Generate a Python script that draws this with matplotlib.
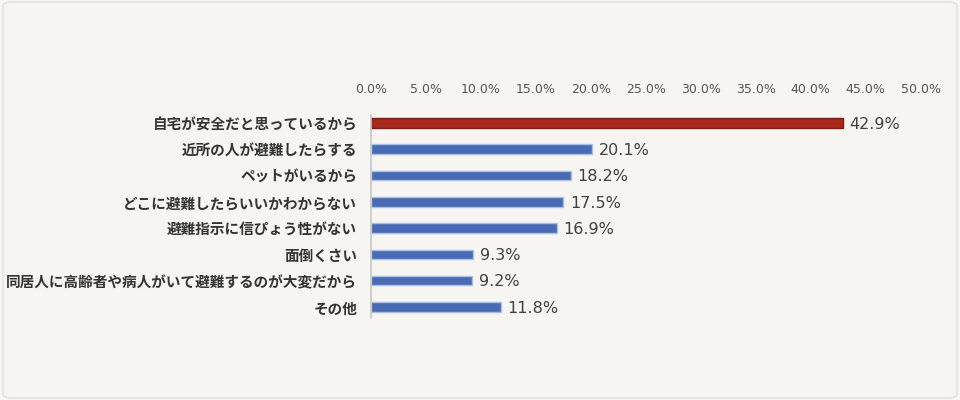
import matplotlib.pyplot as plt
from matplotlib.patches import FancyBboxPatch

plt.rcParams['font.family'] = ['Noto Sans CJK JP', 'DejaVu Sans']

# データ
理由 = ['自宅が安全だと思っているから', '近所の人が避難したらする', 'ペットがいるから',
      'どこに避難したらいいかわからない', '避難指示に信ぴょう性がない', '面倒くさい',
      '同居人に高齢者や病人がいて避難するのが大変だから', 'その他']
割合 = [42.9, 20.1, 18.2, 17.5, 16.9, 9.3, 9.2, 11.8]
目盛 = [0, 5, 10, 15, 20, 25, 30, 35, 40, 45, 50]

bg = '#f6f5f1'
fig = plt.figure(figsize=(9.6, 4.0), dpi=100, facecolor=bg)
fig.patches.append(FancyBboxPatch((0.003, 0.005), 0.994, 0.99, boxstyle='round,pad=0,rounding_size=0.01',
                                  transform=fig.transFigure, facecolor=bg, edgecolor='#e2e1dd', lw=1, zorder=-1))

ax = fig.add_axes([0.3865, 0.205, 0.5725, 0.5075])
ax.set_facecolor('none')

y = list(range(len(理由)))
colors = ['#a8291c'] + ['#4a6bb4'] * (len(理由) - 1)
edges = ['#7a1e14'] + ['#a9c0e6'] * (len(理由) - 1)
ax.barh(y, 割合, height=0.36, color=colors, edgecolor=edges, linewidth=1)

for yi, v in zip(y, 割合):
    ax.text(v + 0.6, yi + 0.05, f'{v:.1f}%', va='center', ha='left', fontsize=11.5,
            color='#404040', family=['DejaVu Sans'])

ax.set_xlim(0, 50)
ax.set_ylim(7.42, -0.3)
ax.set_xticks(目盛)
ax.set_xticklabels([f'{t:.1f}%' for t in 目盛], fontsize=9, color='#555555', family=['DejaVu Sans'])
ax.xaxis.tick_top()
ax.tick_params(axis='x', length=0, pad=14)
ax.set_yticks(y)
ax.set_yticklabels(理由, fontsize=10.5, fontweight='bold', color='#333333')
ax.tick_params(axis='y', length=0, pad=10)

for s in ['top', 'right', 'bottom']:
    ax.spines[s].set_visible(False)
ax.spines['left'].set_color('#c8c8c8')
ax.spines['left'].set_linewidth(1.2)

fig.savefig('out.png', dpi=100, facecolor=bg)
